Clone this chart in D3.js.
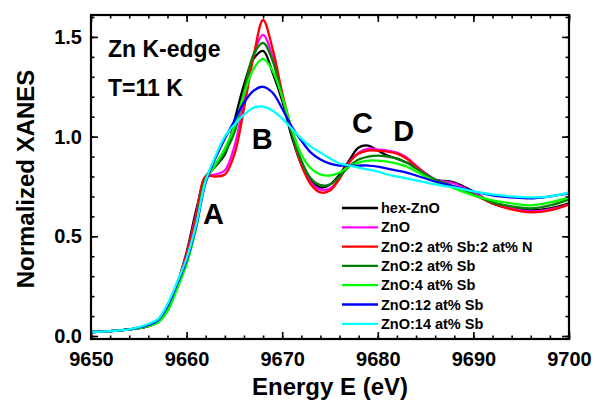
<!DOCTYPE html>
<html>
<head>
<meta charset="utf-8">
<script src="https://cdn.jsdelivr.net/npm/d3@7"></script>
<style>
  body { margin: 0; background: #fff; }
  text { font-family: "Liberation Sans", Arial, sans-serif; font-weight: bold; fill: #000; }
</style>
</head>
<body>
<div id="container"></div>
<script>
// energy grid (eV)
var energy = [9650, 9652, 9654, 9656, 9657, 9658, 9659, 9660, 9661, 9662, 9663, 9664, 9665, 9666, 9667, 9668, 9669, 9670, 9671, 9672, 9673, 9674, 9675, 9676, 9677, 9678, 9679, 9680, 9681, 9682, 9683, 9684, 9685, 9686, 9688, 9690, 9692, 9694, 9696, 9698, 9700];

var hexZnO  = [.02, .025, .033, .05, .075, .14, .26, .42, .63, .80, .85, .91, 1.08, 1.26, 1.39, 1.43, 1.32, 1.18, 1.00, .86, .78, .745, .76, .81, .88, .945, .955, .93, .905, .89, .87, .85, .815, .785, .77, .725, .665, .64, .63, .64, .665];
var znO     = [.02, .025, .033, .05, .075, .14, .255, .41, .61, .80, .81, .83, .95, 1.18, 1.41, 1.51, 1.40, 1.20, 1.02, .86, .77, .735, .74, .79, .87, .92, .94, .935, .93, .92, .895, .855, .815, .785, .765, .72, .67, .64, .625, .635, .66];
var sbN     = [.02, .025, .033, .05, .075, .14, .255, .41, .60, .80, .80, .81, .91, 1.14, 1.40, 1.585, 1.44, 1.22, 1.03, .86, .76, .72, .73, .79, .87, .915, .93, .93, .925, .915, .89, .85, .81, .775, .745, .71, .665, .635, .62, .63, .66];
var sb2     = [.02, .025, .033, .05, .07, .13, .24, .37, .56, .79, .85, .92, 1.02, 1.23, 1.41, 1.47, 1.38, 1.20, 1.02, .88, .79, .757, .76, .80, .85, .885, .90, .905, .90, .89, .87, .84, .81, .785, .75, .71, .67, .65, .64, .655, .685];
var sb4     = [.02, .025, .033, .05, .068, .125, .235, .36, .54, .78, .86, .94, 1.05, 1.21, 1.34, 1.39, 1.33, 1.20, 1.04, .91, .84, .81, .805, .82, .85, .87, .88, .88, .875, .865, .85, .825, .80, .775, .74, .705, .68, .665, .655, .67, .695];
var sb12    = [.02, .025, .033, .055, .08, .15, .26, .38, .55, .77, .89, .99, 1.08, 1.17, 1.23, 1.25, 1.22, 1.14, 1.05, .98, .92, .885, .865, .855, .855, .855, .855, .85, .84, .83, .82, .805, .79, .775, .75, .725, .705, .695, .69, .70, .715];
var sb14    = [.02, .025, .033, .06, .085, .16, .27, .39, .56, .78, .90, 1.00, 1.06, 1.11, 1.145, 1.15, 1.13, 1.09, 1.04, .99, .95, .92, .89, .865, .855, .845, .835, .825, .81, .80, .79, .78, .77, .76, .745, .725, .71, .70, .695, .70, .72];

var seriesNames  = ["hex-ZnO", "ZnO", "ZnO:2 at% Sb:2 at% N", "ZnO:2 at% Sb", "ZnO:4 at% Sb", "ZnO:12 at% Sb", "ZnO:14 at% Sb"];
var seriesValues = [hexZnO, znO, sbN, sb2, sb4, sb12, sb14];
var seriesColors = ["#000000", "#ff00ff", "#ff0000", "#008000", "#00ff00", "#0000ff", "#00ffff"];

var xTicks = [9650, 9660, 9670, 9680, 9690, 9700];
var yTicks = [0.0, 0.5, 1.0, 1.5];

var peakLabels = [
  {t: "A", e: 9662.8, v: 0.56},
  {t: "B", e: 9667.9, v: 0.94},
  {t: "C", e: 9678.4, v: 1.02},
  {t: "D", e: 9682.7, v: 0.98}
];

var W = 595, H = 402;
var margin = {top: 15, right: 26, bottom: 63, left: 91},
    width = W - margin.left - margin.right,
    height = H - margin.top - margin.bottom;

var svg = d3.select("#container")
  .append("svg")
    .attr("width", W)
    .attr("height", H);

var g = svg.append("g")
  .attr("transform", "translate(" + margin.left + "," + margin.top + ")");

var x = d3.scaleLinear().domain([9650, 9700]).range([0, width]);
var y = d3.scaleLinear().domain([-0.015, 1.61]).range([height, 0]);

g.append("clipPath").attr("id", "clip")
  .append("rect").attr("width", width).attr("height", height);

// curves
var line = d3.line()
  .x(function (d) { return x(d[0]); })
  .y(function (d) { return y(d[1]); })
  .curve(d3.curveCatmullRom.alpha(0.5));

seriesValues.forEach(function (vals, i) {
  g.append("path")
    .datum(energy.map(function (e, j) { return [e, vals[j]]; }))
    .attr("clip-path", "url(#clip)")
    .attr("fill", "none")
    .attr("stroke", seriesColors[i])
    .attr("stroke-width", 2.3)
    .attr("d", line);
});

// axes (ticks pointing inward, mirrored)
function styleAxis(sel) {
  sel.select(".domain").remove();
  sel.selectAll("line").attr("stroke", "#000").attr("stroke-width", 1.6);
  sel.selectAll("text").style("font-size", "20px").attr("fill", "#000");
}
var xMinor = d3.range(9650, 9701, 2);
var yMinor = d3.range(0, 1.61, 0.1);

g.append("g").attr("transform", "translate(0," + height + ")")
  .call(d3.axisBottom(x).tickValues(xMinor).tickSize(-3.5).tickFormat(""))
  .call(styleAxis);
g.append("g").attr("transform", "translate(0," + height + ")")
  .call(d3.axisBottom(x).tickValues(xTicks).tickSize(-7).tickPadding(13).tickFormat(d3.format("d")))
  .call(styleAxis);
g.append("g")
  .call(d3.axisTop(x).tickValues(xMinor).tickSize(-3.5).tickFormat(""))
  .call(styleAxis);
g.append("g")
  .call(d3.axisTop(x).tickValues(xTicks).tickSize(-7).tickFormat(""))
  .call(styleAxis);

g.append("g")
  .call(d3.axisLeft(y).tickValues(yMinor).tickSize(-3.5).tickFormat(""))
  .call(styleAxis);
g.append("g")
  .call(d3.axisLeft(y).tickValues(yTicks).tickSize(-7).tickPadding(9).tickFormat(d3.format(".1f")))
  .call(styleAxis);
g.append("g").attr("transform", "translate(" + width + ",0)")
  .call(d3.axisRight(y).tickValues(yMinor).tickSize(-3.5).tickFormat(""))
  .call(styleAxis);
g.append("g").attr("transform", "translate(" + width + ",0)")
  .call(d3.axisRight(y).tickValues(yTicks).tickSize(-7).tickFormat(""))
  .call(styleAxis);

// frame
g.append("rect")
  .attr("width", width).attr("height", height)
  .attr("fill", "none").attr("stroke", "#000").attr("stroke-width", 2.2);

// axis titles
svg.append("text")
  .attr("x", margin.left + width / 2).attr("y", 395)
  .attr("text-anchor", "middle")
  .style("font-size", "24px")
  .text("Energy E (eV)");
svg.append("text")
  .attr("transform", "translate(34,179) rotate(-90)")
  .attr("text-anchor", "middle")
  .style("font-size", "24px")
  .text("Normalized XANES");

// annotations
g.append("text").attr("x", 17).attr("y", 42).style("font-size", "23px").text("Zn K-edge");
g.append("text").attr("x", 17).attr("y", 81).style("font-size", "23px").text("T=11 K");

g.selectAll(".peak")
  .data(peakLabels)
  .enter().append("text")
    .attr("class", "peak")
    .attr("x", function (d) { return x(d.e); })
    .attr("y", function (d) { return y(d.v); })
    .attr("text-anchor", "middle")
    .style("font-size", "29px")
    .text(function (d) { return d.t; });

// legend
var legend = g.append("g").attr("transform", "translate(251,193)");
seriesNames.forEach(function (name, i) {
  var row = legend.append("g").attr("transform", "translate(0," + (i * 19.3) + ")");
  row.append("line")
    .attr("x1", 0).attr("x2", 36).attr("y1", 0).attr("y2", 0)
    .attr("stroke", seriesColors[i]).attr("stroke-width", 2.3);
  row.append("text")
    .attr("x", 39).attr("y", 5)
    .style("font-size", "14.5px")
    .text(name);
});
</script>
</body>
</html>
